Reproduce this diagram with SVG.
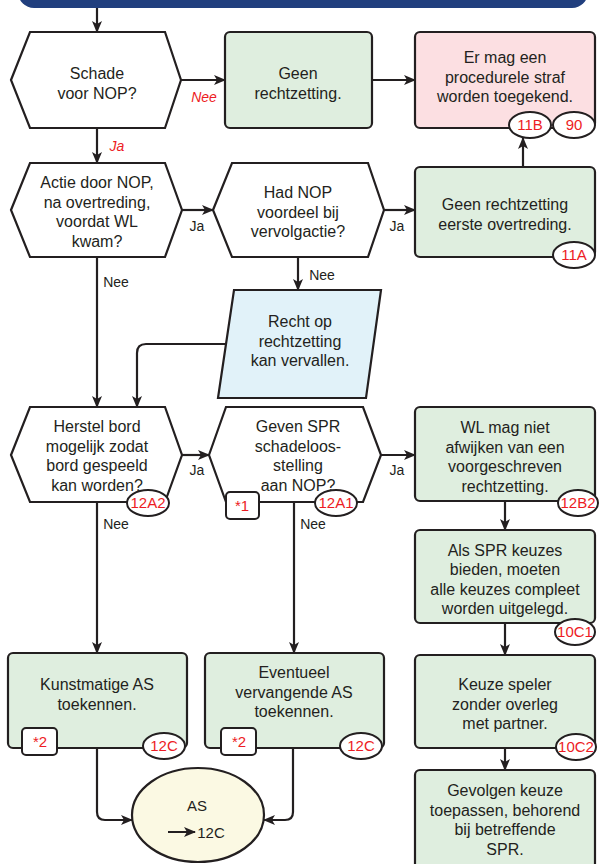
<svg xmlns="http://www.w3.org/2000/svg" width="600" height="864" viewBox="0 0 600 864">
<defs>
<marker id="ah" viewBox="0 0 12 10" refX="11" refY="5" markerWidth="12" markerHeight="10" markerUnits="userSpaceOnUse" orient="auto">
<path d="M0,0 L12,5 L0,10 L3,5 Z" fill="#231f20"/>
</marker>
<style>
.t{font-family:"Liberation Sans",Arial,sans-serif;font-size:16px;fill:#231f20;text-anchor:middle}
.lb{font-family:"Liberation Sans",Arial,sans-serif;font-size:14px;fill:#231f20;text-anchor:middle}
.rl{font-family:"Liberation Sans",Arial,sans-serif;font-size:14px;fill:#ed1c24;text-anchor:middle;font-style:italic}
.rt{font-family:"Liberation Sans",Arial,sans-serif;font-size:15px;fill:#ed1c24;text-anchor:middle}
.sh{stroke:#231f20;stroke-width:2.2;stroke-linejoin:miter}
.g{fill:#dfeedf}
.p{fill:#fcdfe2}
.w{fill:#ffffff}
.b{fill:#e1f2f9}
.y{fill:#fbf9e3}
.c{fill:none;stroke:#231f20;stroke-width:2.2;marker-end:url(#ah)}
.tag{fill:#ffffff;stroke:#231f20;stroke-width:2}
</style>
</defs>
<rect x="18" y="-30" width="570" height="38" rx="16" fill="#213f7e"/>

<g id="connectors">
<path class="c" d="M97,8 V32"/>
<path class="c" d="M181,80 H225"/>
<path class="c" d="M372,80 H415"/>
<path class="c" d="M97,128 V163"/>
<path class="c" d="M523,167 V138"/>
<path class="c" d="M182,210 H213"/>
<path class="c" d="M384,210 H415"/>
<path class="c" d="M298,257 V290"/>
<path class="c" d="M97,257 V407"/>
<path class="c" d="M227,344 H146 Q137,344 137,353 V407"/>
<path class="c" d="M182,455 H209"/>
<path class="c" d="M381,455 H415"/>
<path class="c" d="M505,501 V530"/>
<path class="c" d="M505,623 V655"/>
<path class="c" d="M505,748 V770"/>
<path class="c" d="M97,502 V653"/>
<path class="c" d="M294,502 V653"/>
<path class="c" d="M97,748 V812 Q97,820 105,820 H132"/>
<path class="c" d="M293,748 V812 Q293,820 285,820 H264"/>
<text class="rl" x="204" y="102">Nee</text>
<text class="rl" x="117" y="151">Ja</text>
<text class="lb" x="197" y="231">Ja</text>
<text class="lb" x="397" y="231">Ja</text>
<text class="lb" x="116" y="287">Nee</text>
<text class="lb" x="322" y="280">Nee</text>
<text class="lb" x="197" y="475">Ja</text>
<text class="lb" x="397" y="475">Ja</text>
<text class="lb" x="116" y="529">Nee</text>
<text class="lb" x="313" y="529">Nee</text>
</g>

<g id="n-schade">
<polygon class="sh w" points="11,80 30,32 165,32 181,80 165,128 30,128"/>
<text class="t" x="97" y="79">Schade</text>
<text class="t" x="97" y="99">voor NOP?</text>
</g>

<g id="n-geen">
<rect class="sh g" x="225" y="32" width="147" height="96" rx="5"/>
<text class="t" x="298" y="79">Geen</text>
<text class="t" x="298" y="99">rechtzetting.</text>
</g>

<g id="n-straf">
<rect class="sh p" x="415" y="32" width="180" height="96" rx="5"/>
<text class="t" x="505" y="63">Er mag een</text>
<text class="t" x="505" y="83">procedurele straf</text>
<text class="t" x="505" y="102">worden toegekend.</text>
<ellipse class="tag" cx="530" cy="125" rx="21" ry="13"/>
<text class="rt" x="530" y="130">11B</text>
<ellipse class="tag" cx="574" cy="125" rx="21" ry="13"/>
<text class="rt" x="574" y="130">90</text>
</g>

<g id="n-actie">
<polygon class="sh w" points="11,210 30,163 165,163 182,210 165,257 30,257"/>
<text class="t" x="97" y="188">Actie door NOP,</text>
<text class="t" x="97" y="208">na overtreding,</text>
<text class="t" x="97" y="227">voordat WL</text>
<text class="t" x="97" y="247">kwam?</text>
</g>

<g id="n-voordeel">
<polygon class="sh w" points="213,210 232,163 368,163 384,210 368,257 232,257"/>
<text class="t" x="298" y="198">Had NOP</text>
<text class="t" x="298" y="218">voordeel bij</text>
<text class="t" x="298" y="237">vervolgactie?</text>
</g>

<g id="n-eerste">
<rect class="sh g" x="415" y="167" width="180" height="90" rx="5"/>
<text class="t" x="505" y="210">Geen rechtzetting</text>
<text class="t" x="505" y="230">eerste overtreding.</text>
<ellipse class="tag" cx="574" cy="255" rx="21" ry="13"/>
<text class="rt" x="574" y="260">11A</text>
</g>

<g id="n-vervallen">
<polygon class="sh b" points="234,290 381,290 366,398 218,398"/>
<text class="t" x="300" y="327">Recht op</text>
<text class="t" x="300" y="347">rechtzetting</text>
<text class="t" x="300" y="366">kan vervallen.</text>
</g>

<g id="n-herstel">
<polygon class="sh w" points="11,455 30,407 165,407 182,455 165,502 30,502"/>
<text class="t" x="97" y="432">Herstel bord</text>
<text class="t" x="97" y="452">mogelijk zodat</text>
<text class="t" x="97" y="471">bord gespeeld</text>
<text class="t" x="97" y="491">kan worden?</text>
<ellipse class="tag" cx="148" cy="503" rx="21" ry="13"/>
<text class="rt" x="148" y="508">12A2</text>
</g>

<g id="n-schadeloos">
<polygon class="sh w" points="209,455 226,407 363,407 381,455 363,502 226,502"/>
<text class="t" x="298" y="432">Geven SPR</text>
<text class="t" x="298" y="452">schadeloos-</text>
<text class="t" x="298" y="471">stelling</text>
<text class="t" x="298" y="491">aan NOP?</text>
<rect class="tag" x="226" y="492" width="33" height="27" rx="4"/>
<text class="rt" x="242" y="511">*1</text>
<ellipse class="tag" cx="336" cy="503" rx="21" ry="13"/>
<text class="rt" x="336" y="508">12A1</text>
</g>

<g id="n-wl">
<rect class="sh g" x="415" y="407" width="180" height="94" rx="5"/>
<text class="t" x="505" y="433">WL mag niet</text>
<text class="t" x="505" y="453">afwijken van een</text>
<text class="t" x="505" y="472">voorgeschreven</text>
<text class="t" x="505" y="492">rechtzetting.</text>
<ellipse class="tag" cx="578" cy="503" rx="20" ry="13"/>
<text class="rt" x="578" y="508">12B2</text>
</g>

<g id="n-keuzes">
<rect class="sh g" x="415" y="530" width="180" height="93" rx="5"/>
<text class="t" x="505" y="556">Als SPR keuzes</text>
<text class="t" x="505" y="575">bieden, moeten</text>
<text class="t" x="505" y="595">alle keuzes compleet</text>
<text class="t" x="505" y="614">worden uitgelegd.</text>
<ellipse class="tag" cx="575" cy="632" rx="20" ry="13"/>
<text class="rt" x="575" y="637">10C1</text>
</g>

<g id="n-speler">
<rect class="sh g" x="415" y="655" width="180" height="93" rx="5"/>
<text class="t" x="505" y="690">Keuze speler</text>
<text class="t" x="505" y="710">zonder overleg</text>
<text class="t" x="505" y="729">met partner.</text>
<ellipse class="tag" cx="576" cy="747" rx="20" ry="13"/>
<text class="rt" x="576" y="752">10C2</text>
</g>

<g id="n-gevolgen">
<rect class="sh g" x="415" y="770" width="180" height="110" rx="5"/>
<text class="t" x="505" y="796">Gevolgen keuze</text>
<text class="t" x="505" y="816">toepassen, behorend</text>
<text class="t" x="505" y="835">bij betreffende</text>
<text class="t" x="505" y="855">SPR.</text>
</g>

<g id="n-kunstmatig">
<rect class="sh g" x="8" y="653" width="179" height="95" rx="5"/>
<text class="t" x="97" y="690">Kunstmatige AS</text>
<text class="t" x="97" y="710">toekennen.</text>
<rect class="tag" x="22" y="728" width="35" height="27" rx="4"/>
<text class="rt" x="40" y="747">*2</text>
<ellipse class="tag" cx="164" cy="746" rx="21" ry="13"/>
<text class="rt" x="164" y="751">12C</text>
</g>

<g id="n-vervangend">
<rect class="sh g" x="205" y="653" width="179" height="95" rx="5"/>
<text class="t" x="294" y="678">Eventueel</text>
<text class="t" x="294" y="698">vervangende AS</text>
<text class="t" x="294" y="717">toekennen.</text>
<rect class="tag" x="221" y="728" width="35" height="27" rx="4"/>
<text class="rt" x="239" y="747">*2</text>
<ellipse class="tag" cx="361" cy="746" rx="21" ry="13"/>
<text class="rt" x="361" y="751">12C</text>
</g>

<g id="n-as">
<ellipse class="sh y" cx="198" cy="815" rx="66" ry="47"/>
<text class="t" x="197" y="811" style="font-size:15px">AS</text>
<path class="c" d="M168,832 H195" style="stroke-width:2"/>
<text class="t" x="211" y="838" style="font-size:15px">12C</text>
</g>
</svg>
